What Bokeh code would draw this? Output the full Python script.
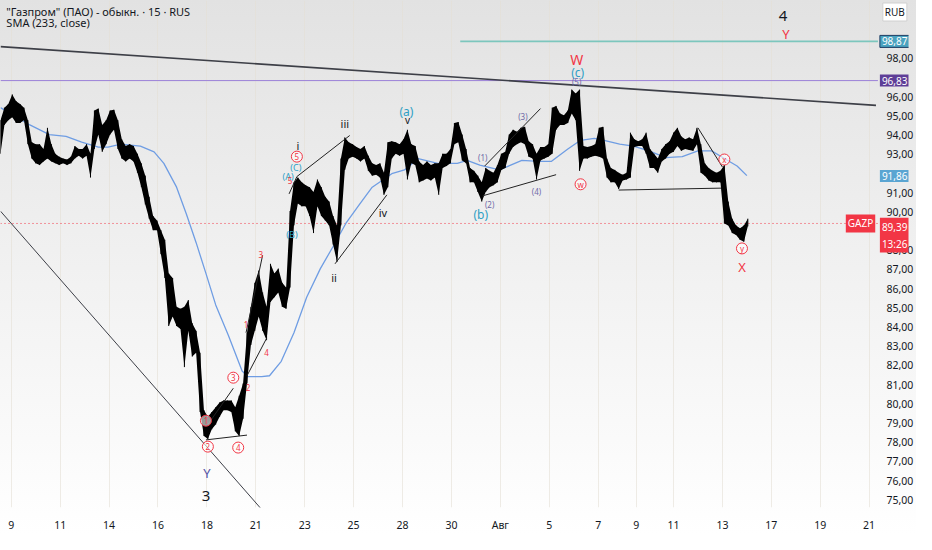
import numpy as np
from bokeh.plotting import figure
from bokeh.models import Range1d, FixedTicker, Label, ColumnDataSource
from bokeh.embed import file_html
from bokeh.resources import INLINE
from bokeh.core.properties import value

# ---------------- data ----------------
# time in trading-day units (0 = 9 July), one sample every 0.16 day
t_start = -0.44
t_step = 0.16
high = [
    94.77, 95.42, 95.61, 96.11, 95.76, 95.61, 95.42, 94.77, 93.62, 93.52,
    93.52, 93.27, 94.37, 93.52, 93.02, 92.87, 92.77, 92.72, 92.87, 93.42,
    93.27, 93.27, 93.52, 93.02, 95.27, 95.37, 94.52, 94.77, 95.27, 95.31,
    94.77, 93.77, 93.42, 93.52, 93.42, 93.02, 92.52, 91.88, 90.78, 89.78,
    89.54, 89.04, 88.54, 86.79, 86.55, 85.05, 84.95, 85.05, 85.40, 84.20,
    83.80, 82.66, 79.67, 79.32, 79.57, 79.82, 80.07, 80.17, 80.17, 80.17,
    79.82, 80.42, 81.06, 83.70, 85.05, 86.30, 86.94, 85.80, 85.05, 87.29,
    86.79, 87.04, 86.30, 86.05, 90.04, 91.53, 91.78, 91.53, 91.38, 91.28,
    91.03, 91.68, 91.28, 90.78, 90.53, 89.78, 89.29, 92.77, 93.87, 93.62,
    93.52, 93.37, 93.27, 93.42, 92.92, 92.52, 92.43, 92.52, 92.03, 93.62,
    93.67, 93.62, 93.52, 93.77, 94.27, 93.52, 93.42, 92.62, 92.43, 92.62,
    92.43, 92.52, 92.52, 93.02, 93.02, 93.27, 94.62, 94.67, 94.02, 93.27,
    92.28, 92.13, 91.88, 91.53, 92.28, 92.13, 92.03, 92.43, 93.02, 93.12,
    94.02, 94.27, 94.17, 94.37, 94.42, 93.67, 93.52, 93.02, 93.37, 93.37,
    93.52, 95.42, 95.51, 95.12, 95.02, 95.27, 96.36, 96.16, 96.36, 93.42,
    93.37, 93.42, 93.52, 94.37, 94.42, 92.77, 92.28, 92.18, 92.03, 91.93,
    92.03, 94.12, 93.77, 93.67, 93.77, 94.12, 93.27, 93.02, 92.77, 93.27,
    93.52, 93.67, 94.12, 94.37, 93.92, 93.77, 93.87, 93.77, 94.37, 93.52,
    92.52, 92.28, 92.13, 92.03, 92.13, 92.43, 90.53, 89.64, 89.29, 89.14,
    89.29, 89.64,
]
low = [
    93.02, 94.52, 94.77, 94.92, 94.62, 94.62, 94.77, 93.52, 92.77, 92.52,
    92.43, 92.62, 92.77, 92.62, 92.52, 92.43, 92.52, 92.43, 92.52, 92.77,
    92.92, 92.77, 92.92, 91.78, 93.27, 94.02, 93.12, 93.52, 94.02, 94.27,
    93.27, 92.77, 92.62, 92.77, 92.62, 92.03, 91.28, 90.38, 89.64, 89.04,
    89.04, 87.79, 86.55, 84.05, 84.55, 84.05, 83.90, 81.91, 83.80, 82.46,
    82.66, 79.57, 78.32, 78.17, 78.67, 78.92, 79.32, 79.67, 79.67, 79.57,
    78.57, 78.32, 79.22, 81.06, 83.06, 83.80, 84.55, 83.80, 83.31, 85.30,
    85.55, 85.80, 85.05, 84.95, 86.05, 89.29, 90.43, 90.28, 90.28, 89.78,
    88.89, 90.28, 89.78, 89.54, 89.29, 88.29, 87.39, 89.29, 92.18, 92.77,
    92.87, 92.77, 92.62, 92.77, 92.13, 91.88, 91.93, 91.78, 90.88, 91.28,
    92.77, 93.02, 92.92, 93.02, 91.68, 92.52, 92.43, 91.53, 91.63, 91.73,
    91.63, 91.78, 90.88, 92.28, 92.38, 92.52, 93.52, 93.62, 92.67, 92.52,
    91.53, 91.53, 91.03, 90.53, 91.03, 91.28, 91.38, 91.53, 92.18, 92.28,
    93.02, 93.37, 93.52, 93.62, 93.52, 92.87, 92.77, 91.68, 92.67, 92.77,
    92.87, 93.02, 94.27, 94.52, 94.52, 94.62, 95.12, 94.77, 92.13, 92.77,
    92.77, 92.87, 92.92, 92.87, 92.77, 91.78, 91.53, 91.53, 91.18, 91.63,
    91.68, 91.78, 93.37, 93.42, 93.42, 93.02, 92.28, 92.28, 92.03, 92.62,
    92.77, 93.02, 93.12, 93.42, 93.17, 93.27, 93.22, 93.17, 93.52, 92.03,
    91.88, 91.63, 91.53, 91.53, 91.53, 89.39, 89.29, 88.89, 88.79, 88.54,
    88.44, 89.24,
]

# SMA(233, close)
sma_t = [-0.44, 0.76, 1.56, 2.24, 2.88, 3.56, 3.96, 4.48, 5.28, 5.84, 6.24, 6.76,
         7.16, 7.56, 7.96, 8.36, 8.88, 9.44, 9.68, 10.24, 10.56, 11.04, 11.56,
         12.08, 12.64, 13.16, 13.68, 14.24, 14.76, 15.28, 15.56, 16.08, 16.64,
         17.44, 18.24, 18.64, 19.16, 19.96, 20.88, 21.56, 22.08, 22.76, 23.28,
         23.84, 24.24, 24.88, 25.44, 26.08, 26.76, 27.44, 28.08, 28.64, 29.16,
         29.68, 30.08]
sma_v = [95.42, 94.52, 94.02, 93.92, 93.62, 93.37, 93.37, 93.52, 93.42, 93.12,
         92.52, 91.28, 89.88, 88.39, 86.79, 85.15, 83.56, 81.71, 81.41, 81.41,
         81.46, 82.21, 83.70, 85.55, 87.04, 88.19, 89.39, 90.38, 91.28, 91.73,
         91.98, 92.18, 92.77, 92.52, 92.52, 92.67, 92.43, 92.18, 92.67, 92.62,
         92.62, 93.27, 93.72, 93.82, 93.72, 93.52, 93.42, 93.17, 92.82, 92.87,
         93.17, 93.17, 92.77, 92.38, 91.88]

last_price = 89.39
last_time = "13:26"
sma_last = 91.86
level_purple = 96.83
level_teal = 98.87

x_ticks = [0, 2, 4, 6, 8, 10, 12, 14, 16, 18, 20, 22, 24, 25.56, 27.08, 29.08,
           31.08, 33.08, 35.08]
x_labels = ["9", "11", "14", "16", "18", "21", "23", "25", "28", "30", "Авг",
            "5", "7", "9", "11", "13", "17", "19", "21"]
# price ticks (those hidden under price tags left out)
y_ticks = [75, 76, 77, 78, 79, 80, 81, 82, 83, 84, 85, 86, 87, 88, 90, 91,
           93, 94, 95, 96, 98]

# drawn trend / wave lines (t0, p0, t1, p1)
seg_t0 = [7.96, 8.04, 9.60, 9.64, 11.36, 11.68, 13.24, 19.28, 19.36, 24.84, 28.08]
seg_p0 = [78.12, 78.92, 83.70, 81.46, 90.93, 91.83, 87.29, 90.83, 92.38, 91.13, 94.37]
seg_t1 = [9.64, 9.08, 10.28, 10.44, 11.68, 13.84, 15.36, 22.28, 21.64, 29.04, 29.08]
seg_p1 = [78.37, 80.81, 87.74, 83.41, 91.83, 93.97, 90.88, 91.93, 95.37, 91.23, 92.33]

trend_t0 = [-0.44, -0.44]
trend_p0 = [98.60, 90.03]
trend_t1 = [35.36, 10.28]
trend_p1 = [95.54, 74.44]

plot_end = 35.44      # right edge of the price pane
teal_start = 18.36

# wave labels
RED = "#f23645"
TEAL = "#2e9fc5"
PURP = "#6e6aa8"
BLK = "#131722"
lab_t = [31.56, 31.68, 23.12, 23.16, 23.12, 16.16, 16.20, 13.64, 11.72, 11.64,
         11.32, 11.40, 11.48, 13.20, 15.20, 19.28, 19.56, 20.92, 21.48, 19.20,
         29.88, 8.00, 7.96, 9.60, 9.68, 10.20, 10.44]
lab_p = [100.20, 99.25, 97.91, 97.26, 96.76, 95.22, 94.77, 94.62, 93.47, 92.28,
         91.83, 91.63, 88.84, 86.60, 89.98, 92.82, 90.38, 94.97, 91.08, 89.88,
         87.14, 76.38, 75.18, 84.15, 80.87, 87.79, 82.66]
lab_txt = ["4", "Y", "W", "(c)", "(5)", "(a)", "v", "iii", "i", "(C)",
           "(A)", "5", "(B)", "ii", "iv", "(1)", "(2)", "(3)", "(4)", "(b)",
           "X", "Y", "3", "1", "2", "3", "4"]
lab_col = [BLK, RED, RED, TEAL, PURP, TEAL, BLK, BLK, BLK, TEAL,
           TEAL, RED, TEAL, BLK, BLK, PURP, PURP, PURP, PURP, TEAL,
           RED, "#5353a6", BLK, RED, RED, RED, RED]
lab_size = ["15px", "13px", "14px", "12px", "8px", "12px", "10px", "11px", "11px", "9px",
            "9px", "8px", "9px", "11px", "11px", "8px", "8px", "8px", "8px", "12px",
            "13px", "13px", "15px", "8px", "8px", "8px", "8px"]

circ_t = [11.68, 9.08, 8.04, 9.28, 7.96, 23.28, 29.16, 29.88]
circ_p = [92.87, 81.36, 77.77, 77.72, 79.12, 91.43, 92.72, 88.09]
circ_txt = ["5", "3", "2", "4", "1", "w", "x", "y"]

# ---------------- figure ----------------
t = t_start + t_step * np.arange(len(high))
src = ColumnDataSource(dict(t=t, hi=high, lo=low))

p = figure(width=916, height=534, output_backend="svg", toolbar_location=None,
           x_range=Range1d(-0.44, 36.69), y_range=Range1d(74.6, 101.0),
           y_axis_location="right", min_border_left=0, min_border_top=0,
           min_border_right=0, min_border_bottom=20)
p.background_fill_alpha = 0
p.border_fill_alpha = 0
p.outline_line_color = None
p.styles = {"background": "linear-gradient(to bottom, #e2e2e2 0%, #f1f1f1 50%, #ffffff 100%)"}

p.xgrid.ticker = FixedTicker(ticks=x_ticks)
p.xgrid.grid_line_color = "#e4dfd6"
p.xgrid.grid_line_alpha = 0.6
p.ygrid.grid_line_color = None

for ax in (p.xaxis[0], p.yaxis[0]):
    ax.axis_line_color = None
    ax.major_tick_line_color = None
    ax.minor_tick_line_color = None
    ax.major_label_text_font = "Noto Sans"
    ax.major_label_text_font_size = "10.5px"
    ax.major_label_text_color = BLK
p.xaxis.ticker = FixedTicker(ticks=x_ticks)
p.xaxis.major_label_overrides = {tk: lb for tk, lb in zip(x_ticks, x_labels)}
p.xaxis.major_label_standoff = 4
p.yaxis.ticker = FixedTicker(ticks=y_ticks)
p.yaxis.major_label_overrides = {v: f"{v},00" for v in y_ticks}
p.yaxis.major_label_standoff = -28

# level lines
p.segment(x0=[-0.44], y0=[level_purple], x1=[plot_end], y1=[level_purple],
          line_color="#9c82d8", line_width=1)
p.segment(x0=[teal_start], y0=[level_teal], x1=[plot_end], y1=[level_teal],
          line_color="#7cc6bd", line_width=1.6)
p.segment(x0=[-0.44], y0=[last_price], x1=[plot_end], y1=[last_price],
          line_color=RED, line_width=1, line_dash="1 3")

# trend lines
p.segment(x0=trend_t0, y0=trend_p0, x1=trend_t1, y1=trend_p1,
          line_color="#3d3f47", line_width=[1.6, 1.0])

# SMA
p.line(sma_t, sma_v, line_color="#6f9de3", line_width=1.3)

# price (dense 15-min candles rendered as their high-low envelope)
p.varea(x="t", y1="lo", y2="hi", source=src, fill_color="#000000")
p.segment(x0="t", y0="lo", x1="t", y1="hi", source=src, line_color="#000000", line_width=1.0)

# wave lines
p.segment(x0=seg_t0, y0=seg_p0, x1=seg_t1, y1=seg_p1, line_color="#222222", line_width=1)

# wave labels
lsrc = ColumnDataSource(dict(t=lab_t, p=lab_p, txt=lab_txt, col=lab_col, sz=lab_size))
p.text(x="t", y="p", text="txt", source=lsrc, text_color="col", text_font_size="sz",
       text_align="center", text_baseline="middle", text_font=value("Noto Sans"))

csrc = ColumnDataSource(dict(t=circ_t, p=circ_p, txt=circ_txt))
p.scatter(x="t", y="p", source=csrc, marker="circle", size=11, fill_color="#ffffff",
          fill_alpha=0.6, line_color=RED, line_width=1)
p.text(x="t", y="p", text="txt", source=csrc, text_color=RED, text_font_size="8px",
       text_align="center", text_baseline="middle", text_font=value("Noto Sans"))

# legend texts
p.add_layout(Label(x=-0.2, y=100.45, text='"Газпром" (ПАО) - обыкн. · 15 · RUS',
                   text_font="Noto Sans", text_font_size="11px", text_color=BLK,
                   text_baseline="middle"))
p.add_layout(Label(x=-0.2, y=99.85, text="SMA (233, close)",
                   text_font="Noto Sans", text_font_size="11px", text_color=BLK,
                   text_baseline="middle"))

# price tags on the price scale
def tag(y, txt, bg, fg="#ffffff", border=None, x=35.52, align="left",
        baseline="middle", size="10px"):
    p.add_layout(Label(x=x, y=y, text=txt, text_font="Noto Sans", text_font_size=size,
                       text_color=fg, text_align=align, text_baseline=baseline,
                       background_fill_color=bg, border_line_color=border,
                       padding=2))

tag(level_teal, "98,87", "#4aa3c0", border="#1d3c63")
tag(level_purple, "96,83", "#5e3e97")
tag(sma_last, "91,86", "#5aa5d2")
tag(last_price + 0.3, "89,39\n" + last_time, RED, baseline="top")
tag(last_price, "GAZP", RED, x=35.33, align="right")
tag(100.4, "RUB", "#ffffff", fg=BLK, border="#d0d0d0", x=35.64)

open("out.html", "w").write(file_html(p, INLINE))
